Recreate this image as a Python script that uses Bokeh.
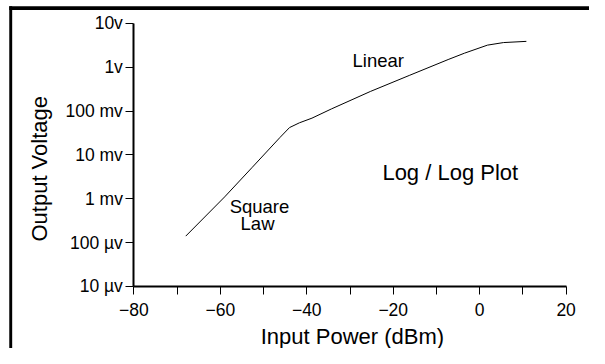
import math
from bokeh.plotting import figure
from bokeh.models import Range1d, FixedTicker, Label, BoxAnnotation
from bokeh.embed import file_html
from bokeh.resources import INLINE

# data
power_dbm = [-68.0, -59.0, -52.7, -46.2, -44.0, -41.7, -38.8, -34.3, -25.3, -16.3, -7.3, -3.5, 1.8, 5.5, 10.8]
voltage_v = [1.4e-4, 1.1e-3, 5.1e-3, 0.025, 0.042, 0.054, 0.069, 0.112, 0.28, 0.65, 1.5, 2.1, 3.2, 3.66, 3.9]

x_ticks = [-80, -60, -40, -20, 0, 20]
x_minor = [-70, -50, -30, -10, 10]
y_ticks = [1e-5, 1e-4, 1e-3, 1e-2, 1e-1, 1.0, 10.0]
y_tick_labels = ["10 µv", "100 µv", "1 mv", "10 mv", "100 mv", "1v", "10v"]

FONT = "Liberation Sans"

# canvas size; layout measured on a 605x364 reference and scaled into it
W, H = 589, 348
REF_W, REF_H = 605, 364
SX, SY = W / REF_W, H / REF_H
AX_LEFT, AX_RIGHT = 137 * SX, 581 * SX      # x = -80 .. 20
AX_TOP, AX_BOTTOM = 24 * SY, 299 * SY       # y = 10 V .. 10 uV
ppu = (AX_RIGHT - AX_LEFT) / (x_ticks[-1] - x_ticks[0])
ppd = (AX_BOTTOM - AX_TOP) / 6.0

def dx(rx):
    return x_ticks[0] + (rx * SX - AX_LEFT) / ppu

def dy(ry):
    return 10 ** (1 - (ry * SY - AX_TOP) / ppd)

p = figure(width=W, height=H, output_backend="svg", toolbar_location=None,
           y_axis_type="log", x_range=Range1d(dx(0), dx(REF_W)), y_range=Range1d(dy(REF_H), dy(0)),
           min_border_left=0, min_border_right=0, min_border_top=0, min_border_bottom=0)
p.outline_line_color = None
p.xgrid.visible = False
p.ygrid.visible = False
p.background_fill_color = "white"
p.border_fill_color = "white"

# picture box border (top and left edges)
p.add_layout(BoxAnnotation(left=dx(9), right=dx(12), top=dy(6), fill_color="black", fill_alpha=1, line_color=None))
p.add_layout(BoxAnnotation(left=dx(9), top=dy(6), bottom=dy(10), fill_color="black", fill_alpha=1, line_color=None))

p.line(power_dbm, voltage_v, line_color="black", line_width=1)

xa = p.xaxis[0]
xa.fixed_location = y_ticks[0]
xa.bounds = (x_ticks[0], x_ticks[-1])
xa.ticker = FixedTicker(ticks=x_ticks, minor_ticks=x_minor)
xa.axis_line_width = 2
xa.major_tick_in = 0
xa.major_tick_out = 8
xa.minor_tick_in = 0
xa.minor_tick_out = 8
xa.minor_tick_line_color = "black"
xa.major_label_text_font = FONT
xa.major_label_text_font_size = "17.5px"
xa.major_label_text_color = "black"
xa.major_label_standoff = 9

ya = p.yaxis[0]
ya.fixed_location = x_ticks[0]
ya.bounds = (y_ticks[0], y_ticks[-1])
ya.ticker = FixedTicker(ticks=y_ticks, minor_ticks=[])
ya.major_label_overrides = {t: s for t, s in zip(y_ticks, y_tick_labels)}
ya.axis_line_width = 2
ya.major_tick_in = 0
ya.major_tick_out = 8
ya.minor_tick_line_color = None
ya.major_label_text_font = FONT
ya.major_label_text_font_size = "17.5px"
ya.major_label_text_color = "black"
ya.major_label_standoff = 3

def note(rx, ry, text, size, angle=0.0):
    p.add_layout(Label(x=dx(rx), y=dy(ry), text=text, text_align="center", text_baseline="middle",
                       angle=angle, text_font=FONT, text_font_size=size, text_color="black"))

note(361.5, 351, "Input Power (dBm)", "22px")
note(40, 176, "Output Voltage", "22px", angle=math.pi / 2)
note(388, 63, "Linear", "18.5px")
note(266, 215, "Square", "18.5px")
note(264, 233, "Law", "18.5px")
note(462, 180, "Log / Log Plot", "22px")

open("out.html", "w").write(file_html(p, INLINE))
